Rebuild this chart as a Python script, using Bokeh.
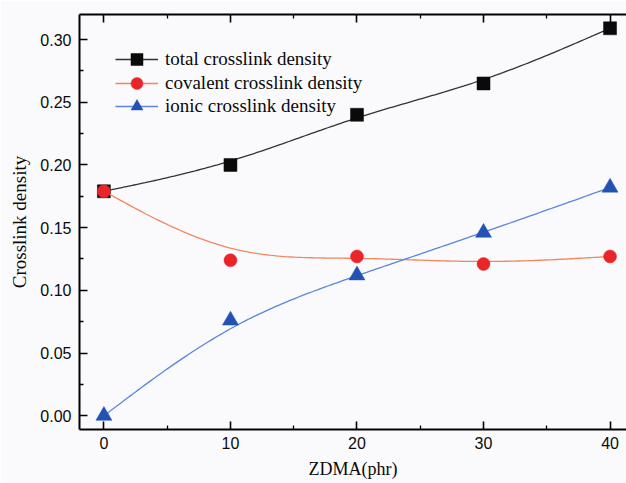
import numpy as np
from bokeh.plotting import figure
from bokeh.models import (LinearAxis, FixedTicker, NumeralTickFormatter, Range1d,
                          Legend, LegendItem)
from bokeh.embed import file_html
from bokeh.resources import INLINE

# ZDMA loading (phr) and crosslink densities
zdma = [0, 10, 20, 30, 40]
total = [0.179, 0.200, 0.240, 0.265, 0.309]
covalent = [0.179, 0.124, 0.127, 0.121, 0.127]
ionic = [0.000, 0.076, 0.112, 0.146, 0.182]

y_ticks = [0.00, 0.05, 0.10, 0.15, 0.20, 0.25, 0.30]
x_ticks = [0, 10, 20, 30, 40]


def bspline(xs, ys, per_seg=40):
    """Uniform cubic B-spline through clamped end points (control points = data)."""
    px = np.array([xs[0]] * 2 + list(xs) + [xs[-1]] * 2, dtype=float)
    py = np.array([ys[0]] * 2 + list(ys) + [ys[-1]] * 2, dtype=float)
    t = np.linspace(0, 1, per_seg)
    b0 = (1 - t) ** 3 / 6
    b1 = (3 * t ** 3 - 6 * t ** 2 + 4) / 6
    b2 = (-3 * t ** 3 + 3 * t ** 2 + 3 * t + 1) / 6
    b3 = t ** 3 / 6
    cx, cy = [], []
    for i in range(len(px) - 3):
        cx.append(b0 * px[i] + b1 * px[i + 1] + b2 * px[i + 2] + b3 * px[i + 3])
        cy.append(b0 * py[i] + b1 * py[i + 1] + b2 * py[i + 2] + b3 * py[i + 3])
    return np.concatenate(cx), np.concatenate(cy)


BG = "#fafafd"
p = figure(width=626, height=483, output_backend="svg", toolbar_location=None,
           x_range=Range1d(-1.93, 41.3), y_range=Range1d(-0.011, 0.32),
           background_fill_color=BG, border_fill_color=BG,
           min_border_left=79, min_border_top=14, min_border_bottom=54, min_border_right=0)
p.grid.visible = False
p.outline_line_color = None

series = [
    ("total crosslink density", total, "#333333", "#0a0a0a", "square", 13),
    ("covalent crosslink density", covalent, "#f2845e", "#e8262a", "circle", 13),
    ("ionic crosslink density", ionic, "#5b86dc", "#2352b4", "triangle", 16),
]

# one single-row legend per series, stacked at the top left of the frame
legend_rows_y = [355, 331, 308]
for (label, vals, lcol, mcol, marker, size), ly in zip(series, legend_rows_y):
    sx, sy = bspline(zdma, vals)
    r_line = p.line(sx, sy, line_color=lcol, line_width=1.3)
    r_mark = p.scatter(zdma, vals, marker=marker, size=size, fill_color=mcol,
                       line_color=mcol, line_width=0.5)
    leg = Legend(items=[LegendItem(label=label, renderers=[r_line, r_mark])],
                 location=(36, ly), border_line_color=None,
                 background_fill_alpha=0, padding=0, spacing=0, margin=0,
                 glyph_width=43, glyph_height=30, label_height=30, label_standoff=7,
                 label_text_font="Liberation Serif", label_text_font_size="19px",
                 label_text_color="#0a0a0a")
    p.add_layout(leg, "center")


def style_axis(ax):
    ax.axis_line_color = "black"
    ax.axis_line_width = 2
    ax.major_tick_line_color = "black"
    ax.minor_tick_line_color = "black"
    ax.major_tick_line_width = 1.6
    ax.minor_tick_line_width = 1.3
    ax.major_tick_in = 8
    ax.major_tick_out = 0
    ax.minor_tick_in = 4
    ax.minor_tick_out = 0
    ax.major_label_text_font = "Liberation Sans"
    ax.major_label_text_font_size = "16px"
    ax.major_label_text_color = "#0a0a0a"
    ax.axis_label_text_font = "Liberation Serif"
    ax.axis_label_text_font_style = "normal"
    ax.axis_label_text_font_size = "18px"
    ax.axis_label_text_color = "#0a0a0a"


xa = p.xaxis[0]
xa.ticker = FixedTicker(ticks=x_ticks, minor_ticks=[5, 15, 25, 35])
xa.axis_label = "ZDMA(phr)"
style_axis(xa)
xa.major_label_standoff = 7
xa.axis_label_standoff = 7

ya = p.yaxis[0]
ya.ticker = FixedTicker(ticks=y_ticks, minor_ticks=[0.025, 0.075, 0.125, 0.175, 0.225, 0.275])
ya.formatter = NumeralTickFormatter(format="0.00")
ya.axis_label = "Crosslink density"
style_axis(ya)
ya.axis_label_text_font_size = "19px"
ya.major_label_standoff = 8
ya.axis_label_standoff = 7

top = LinearAxis(ticker=FixedTicker(ticks=x_ticks, minor_ticks=[5, 15, 25, 35]))
style_axis(top)
top.major_label_text_font_size = "0px"
top.major_label_text_color = None
top.major_label_standoff = 0
p.add_layout(top, "above")

open("out.html", "w").write(file_html(p, INLINE))
